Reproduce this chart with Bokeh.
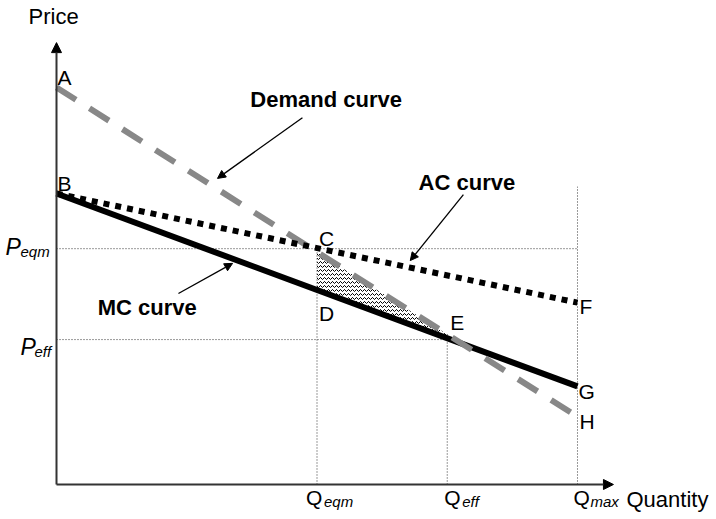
import numpy as np
from bokeh.plotting import figure
from bokeh.models import Range1d, Arrow, NormalHead
from bokeh.core.properties import value
from bokeh.embed import file_html
from bokeh.resources import INLINE

# ---------------- data ----------------
Q_EQM, Q_EFF, Q_MAX = 5.0, 7.5, 10.0
P_EQM, P_EFF = 5.94, 3.65

demand_q = [0.0, 10.0]
demand_p = [10.0, 1.71]
mc_q = [0.0, 10.0]
mc_p = [7.33, 2.47]
ac_q = [0.0, 10.0]
ac_p = [7.33, 4.58]

q_max_guide_top = 7.5
axis_q_end = 10.69
axis_p_end = 11.13

curve_titles = ["Demand curve", "AC curve", "MC curve"]
axis_titles = ["Price", "Quantity"]
q_subs = ["eqm", "eff", "max"]
p_subs = ["eqm", "eff"]

FONT = value("Liberation Sans")
SH = -6  # vertical text correction (px)

p = figure(width=716, height=519, output_backend="svg", toolbar_location=None,
           x_range=Range1d(-1.0749, 12.668), y_range=Range1d(-0.8816, 12.191),
           min_border=0, min_border_left=0, min_border_right=0,
           min_border_top=0, min_border_bottom=0)
p.axis.visible = False
p.grid.visible = False
p.outline_line_color = None
p.background_fill_color = "white"
p.border_fill_color = "white"

# ---------------- shaded (deadweight) area ----------------
def at(qs, ps, q):
    return float(np.interp(q, qs, ps))

sd = (demand_p[1] - demand_p[0]) / (demand_q[1] - demand_q[0])
sm = (mc_p[1] - mc_p[0]) / (mc_q[1] - mc_q[0])
q_int = (mc_p[0] - demand_p[0]) / (sd - sm)
p_int = demand_p[0] + sd * q_int
p.patch(x=[Q_EQM, Q_EQM, q_int],
        y=[at(demand_q, demand_p, Q_EQM), at(mc_q, mc_p, Q_EQM), p_int],
        fill_color="white", fill_alpha=0.0, line_color=None,
        hatch_pattern="horizontal_wave", hatch_color="black",
        hatch_scale=4, hatch_weight=1.0)

# ---------------- guide lines ----------------
guide = dict(line_color="#333333", line_width=1, line_dash="1 2")
p.segment(x0=[0, 0, Q_EQM, Q_EFF, Q_MAX],
          y0=[P_EQM, P_EFF, 0, 0, 0],
          x1=[Q_MAX, Q_EFF, Q_EQM, Q_EFF, Q_MAX],
          y1=[P_EQM, P_EFF, P_EQM, P_EFF, q_max_guide_top], **guide)

# ---------------- curves ----------------
p.line(mc_q, mc_p, line_color="black", line_width=6)
p.line(demand_q, demand_p, line_color="#888888", line_width=6, line_dash="23 16")
p.line(ac_q, ac_p, line_color="black", line_width=6, line_dash="6 6")

# ---------------- axes ----------------
p.add_layout(Arrow(end=NormalHead(size=10, fill_color="black", line_color="black"),
                   x_start=0, y_start=0, x_end=0, y_end=axis_p_end,
                   line_color="#333333", line_width=2))
p.add_layout(Arrow(end=NormalHead(size=10, fill_color="black", line_color="black"),
                   x_start=0, y_start=0, x_end=axis_q_end, y_end=0,
                   line_color="#333333", line_width=2))

# ---------------- annotation arrows ----------------
ann_start_q = [4.72, 7.81, 2.34]
ann_start_p = [9.24, 7.30, 4.81]
ann_end_q = [3.09, 6.79, 3.38]
ann_end_p = [7.71, 5.64, 5.57]
for xs, ys, xe, ye in zip(ann_start_q, ann_start_p, ann_end_q, ann_end_p):
    p.add_layout(Arrow(end=NormalHead(size=8, fill_color="black", line_color="black"),
                       x_start=xs, y_start=ys, x_end=xe, y_end=ye,
                       line_color="black", line_width=1.3))

# curve titles
title_q = [3.72, 6.95, 0.79]
title_p = [9.55, 7.46, 4.31]
p.text(x=title_q, y=title_p, text=curve_titles, y_offset=SH, text_font=FONT,
       text_font_size="22px", text_font_style="bold", text_color="black",
       text_align="left", text_baseline="alphabetic")

# ---------------- point labels ----------------
pt_q = [0, 0, Q_EQM, Q_EQM, Q_EFF, ac_q[1], mc_q[1], demand_q[1]]
pt_p = [demand_p[0], mc_p[0], P_EQM, at(mc_q, mc_p, Q_EQM), P_EFF,
        ac_p[1], mc_p[1], demand_p[1]]
pt_text = ["A", "B", "C", "D", "E", "F", "G", "H"]
pt_dx = [1, 1, 2, 2, 3, 2, 1, 2]
pt_dy = [d + SH for d in [-4, -4, -4, 30, -11, 10, 11, 11]]
p.text(x=pt_q, y=pt_p, text=pt_text, x_offset=pt_dx, y_offset=pt_dy,
       text_font=FONT, text_font_size="21px", text_color="black",
       text_align="left", text_baseline="alphabetic")

# axis titles
p.text(x=[0], y=[axis_p_end], text=[axis_titles[0]], x_offset=[-28], y_offset=[-20 + SH],
       text_font=FONT, text_font_size="22px", text_color="black",
       text_align="left", text_baseline="alphabetic")
p.text(x=[axis_q_end], y=[0], text=[axis_titles[1]], x_offset=[13], y_offset=[21 + SH],
       text_font=FONT, text_font_size="22px", text_color="black",
       text_align="left", text_baseline="alphabetic")

# price labels P_eqm, P_eff
p.text(x=[0, 0], y=[P_EQM, P_EFF], text=["P", "P"], x_offset=[-51, -36],
       y_offset=[4 + SH, 13 + SH],
       text_font=FONT, text_font_size="23px", text_font_style="italic",
       text_color="black", text_align="left", text_baseline="alphabetic")
p.text(x=[0, 0], y=[P_EQM, P_EFF], text=p_subs, x_offset=[-36, -22],
       y_offset=[9 + SH, 18 + SH],
       text_font=FONT, text_font_size="15px", text_font_style="italic",
       text_color="black", text_align="left", text_baseline="alphabetic")

# quantity labels Q_eqm, Q_eff, Q_max
qx = [Q_EQM, Q_EFF, Q_MAX]
p.text(x=qx, y=[0, 0, 0], text=["Q", "Q", "Q"], x_offset=[-11, -3, -4],
       y_offset=[19 + SH] * 3,
       text_font=FONT, text_font_size="21px", text_color="black",
       text_align="left", text_baseline="alphabetic")
p.text(x=qx, y=[0, 0, 0], text=q_subs, x_offset=[7, 15, 13],
       y_offset=[23 + SH] * 3,
       text_font=FONT, text_font_size="15px", text_font_style="italic",
       text_color="black", text_align="left", text_baseline="alphabetic")

open("out.html", "w").write(file_html(p, INLINE))
